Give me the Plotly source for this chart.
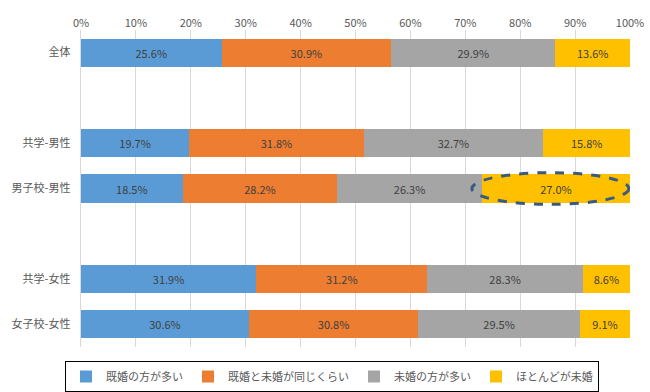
import plotly.graph_objects as go

categories = ["全体", " ", "共学-男性", "男子校-男性", "  ", "共学-女性", "女子校-女性"]
series_names = ["既婚の方が多い", "既婚と未婚が同じくらい", "未婚の方が多い", "ほとんどが未婚"]
v_kikon = [25.6, None, 19.7, 18.5, None, 31.9, 30.6]
v_onaji = [30.9, None, 31.8, 28.2, None, 31.2, 30.8]
v_mikon = [29.9, None, 32.7, 26.3, None, 28.3, 29.5]
v_hotondo = [13.6, None, 15.8, 27.0, None, 8.6, 9.1]
series_values = [v_kikon, v_onaji, v_mikon, v_hotondo]
colors = ["#5B9BD5", "#ED7D31", "#A5A5A5", "#FFC000"]
tick_vals = [0, 10, 20, 30, 40, 50, 60, 70, 80, 90, 100]
tick_text = [f"{t}%" for t in tick_vals]

FONT = "Noto Sans CJK JP"
fig = go.Figure()
for name, vals, col in zip(series_names, series_values, colors):
    fig.add_trace(go.Bar(
        y=categories, x=vals, name=name, orientation="h",
        marker=dict(color=col, line=dict(width=0)),
        texttemplate="%{x:.1f}%", textposition="inside",
        insidetextanchor="middle", textangle=0,
        textfont=dict(color="#404040", size=11, family=FONT),
        constraintext="none",
    ))

# highlight ellipse around 男子校-男性 / ほとんどが未婚
row = categories.index("男子校-男性")
fig.add_shape(type="circle", xref="x", yref="y",
              x0=71.2, x1=99.8, y0=row - 0.35, y1=row + 0.35,
              line=dict(color="#3B5A80", width=3, dash="dash"))

fig.update_layout(
    width=650, height=392,
    margin=dict(l=81, r=20, t=30, b=45),
    barmode="stack", bargap=0.38,
    plot_bgcolor="white", paper_bgcolor="white",
    font=dict(family=FONT, size=11, color="#595959"),
    xaxis=dict(range=[0, 100], side="top", tickvals=tick_vals, ticktext=tick_text,
               showgrid=True, gridcolor="#D9D9D9", gridwidth=1, zeroline=False,
               tickfont=dict(size=11, color="#595959"), automargin=False),
    yaxis=dict(categoryorder="array", categoryarray=categories, autorange="reversed",
               showline=True, linecolor="#D9D9D9", linewidth=1, ticks="",
               tickfont=dict(size=11, color="#595959"), ticksuffix="   ",
               automargin=False),
    legend=dict(orientation="h", xref="container", yref="container",
                x=0.1, xanchor="left", y=1 - 361 / 392, yanchor="top",
                bordercolor="#000000", borderwidth=1, font=dict(size=11, color="#595959"),
                traceorder="normal", itemwidth=30),
    showlegend=True,
)
fig.write_html("out.html")
